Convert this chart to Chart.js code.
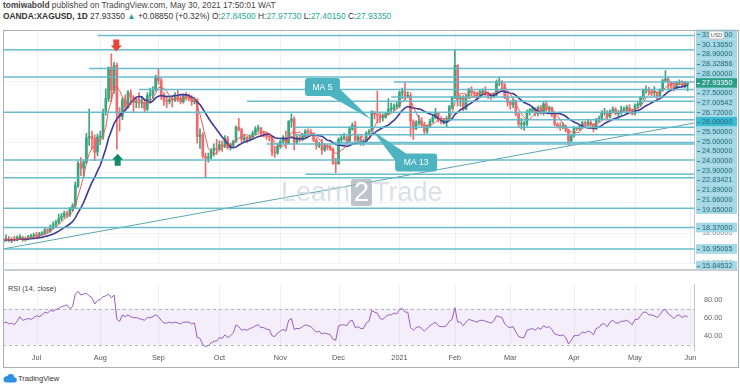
<!DOCTYPE html>
<html><head><meta charset="utf-8">
<script src="https://cdn.jsdelivr.net/npm/chart.js@4.4.1/dist/chart.umd.min.js"></script>
<style>
html,body{margin:0;padding:0;background:#fff;width:740px;height:389px;overflow:hidden;font-family:"Liberation Sans",Arial,sans-serif;}
#wrap{position:relative;width:740px;height:389px;}
#pc{position:absolute;left:0;top:0;z-index:2;}
#rc{position:absolute;left:0;top:270px;z-index:1;}
.t{position:absolute;white-space:nowrap;font-size:7.3px;line-height:9px;color:#444;}
.h{font-size:8.4px;line-height:10px;}
.g{color:#26a69a;}
#frame{position:absolute;left:3px;top:30px;width:736px;height:338px;box-sizing:border-box;border:1px solid #aab0b7;z-index:3;pointer-events:none;}
#sep{position:absolute;left:3px;top:269px;width:736px;height:2px;background:#c9cdd3;z-index:3;}
#wm{position:absolute;left:281px;top:177px;font-size:27px;line-height:30px;color:rgba(205,214,224,0.75);z-index:2;white-space:nowrap;}
#wm .b{display:inline-block;background:rgba(168,176,184,0.75);color:#fff;padding:0 3px;line-height:27px;border-radius:2px;margin:0 1px;}
</style></head>
<body><div id="wrap">
<canvas id="rc" width="740" height="100"></canvas>
<canvas id="pc" width="740" height="276"></canvas>
<div class="t h" style="left:3px;top:0px;"><b>tomiwabold</b> published on TradingView.com, May 30, 2021 17:50:01 WAT</div>
<div class="t h" style="left:3px;top:11px;color:#333;"><b>OANDA:XAGUSD, 1D</b> 27.93350 <span class="g">&#9650;</span> +0.08850 (+0.32%) O:<span class="g">27.84500</span> H:<span class="g">27.97730</span> L:<span class="g">27.40150</span> C:<span class="g">27.93350</span></div>
<div id="wm">Learn<span class="b">2</span>Trade</div>
<div class="t" style="left:8px;top:284px;color:#444;">RSI (14, close)</div>
<div class="t" style="left:3px;top:373px;color:#333;font-size:7.5px;line-height:11px;"><svg width="14" height="10" viewBox="0 0 14 10" style="vertical-align:-2px;margin-right:1px"><path d="M3.4 9.6h7.6a2.7 2.7 0 0 0 .4-5.4A3.8 3.8 0 0 0 4.1 3.3 3.1 3.1 0 0 0 3.4 9.6z" fill="#2f8fe0"/></svg>TradingView</div>
<div id="frame"></div><div id="sep"></div>
</div>
<script>
// ---------- DATA ----------
const monthTicks = [12,35,56,78,100,121,143,163,183,206,228,248];
const monthNames = ['Jul','Aug','Sep','Oct','Nov','Dec','2021','Feb','Mar','Apr','May','Jun'];

const opens = [
17.40,17.55,17.60,17.50,17.58,17.55,17.70,17.72,17.55,17.62,17.75,17.80,
17.83,17.80,17.95,17.98,18.20,18.15,18.40,18.55,18.70,18.95,19.10,19.30,19.20,19.55,19.80,21.15,22.60,22.30,22.70,24.30,24.40,24.25,23.35,
24.35,24.40,26.00,26.90,28.95,27.45,29.10,25.95,25.70,26.80,26.35,27.30,27.00,26.65,26.70,26.60,26.65,26.20,27.10,27.20,27.50,
28.30,28.10,27.10,26.75,26.70,26.85,26.80,27.10,26.90,26.70,27.10,27.05,26.95,26.70,26.80,24.40,24.50,23.10,22.95,23.00,23.45,23.60,
23.55,23.85,23.75,24.25,23.65,23.80,24.05,25.00,24.85,24.20,24.30,24.20,24.35,24.60,24.90,24.95,24.60,24.55,24.40,24.35,23.35,23.30,
23.75,24.05,24.30,23.95,25.40,25.55,24.00,24.30,24.25,24.45,24.75,24.70,24.60,24.15,23.80,23.90,23.50,23.75,23.70,23.60,22.65,
22.60,24.20,24.30,24.30,24.10,24.90,25.15,24.15,24.35,23.95,24.05,24.60,24.75,26.00,25.85,25.80,25.65,25.65,25.90,26.20,26.20,26.40,
26.40,27.30,27.35,27.05,27.10,25.40,24.90,25.30,25.40,25.15,24.75,25.05,25.40,25.65,25.95,25.50,25.40,25.40,25.50,26.35,
26.95,29.10,26.90,26.95,26.20,27.00,27.45,27.30,27.25,27.00,27.35,27.40,27.30,27.10,27.00,27.20,28.00,28.00,27.80,27.00,
26.65,26.50,26.70,25.90,25.20,25.20,25.20,26.00,26.10,26.20,25.90,26.30,25.95,26.55,26.20,26.30,25.90,25.20,25.10,25.00,25.10,24.80,24.10,
24.45,24.95,24.90,25.00,25.30,25.20,25.35,25.20,24.90,25.50,25.60,25.95,26.00,25.70,26.05,26.20,25.90,25.95,26.15,26.20,26.30,26.10,
25.90,26.45,26.50,26.95,27.45,27.50,27.35,27.30,27.30,27.10,27.45,28.10,28.20,27.95,27.75,27.60,27.95,28.00,27.80,27.845];

const highs = [
17.62,17.88,17.78,17.70,17.80,17.82,17.90,17.80,17.75,17.85,17.92,18.00,
18.05,18.05,18.10,18.35,18.30,18.55,18.75,18.85,19.25,19.30,19.45,19.45,19.70,19.95,21.40,22.75,23.00,22.85,24.60,26.20,24.75,24.50,24.55,
24.75,26.20,27.55,29.00,29.86,29.30,29.25,26.30,26.95,27.15,27.45,27.50,27.10,26.90,27.30,26.95,26.90,27.30,27.60,27.70,28.45,
28.90,28.25,27.30,27.05,27.00,27.05,27.30,27.45,27.10,27.20,27.30,27.20,27.10,27.00,26.90,24.90,24.65,23.30,23.30,23.60,23.90,24.20,
24.10,24.10,24.45,24.40,23.95,24.15,25.10,25.60,24.95,24.55,24.40,24.50,24.75,25.05,25.15,25.00,24.75,24.65,24.60,24.40,23.75,23.95,
24.15,24.45,24.75,25.45,25.90,25.70,24.45,24.50,24.60,24.85,24.90,24.85,24.65,24.25,24.00,24.20,23.90,23.85,23.80,23.65,22.95,
24.30,24.50,24.60,24.45,25.05,25.30,25.40,24.45,24.40,24.20,24.70,24.85,26.10,26.05,27.40,25.95,25.90,26.00,26.90,26.60,26.55,26.70,
27.40,27.60,27.95,27.35,27.30,25.50,25.45,25.80,25.65,25.35,25.15,25.55,25.80,26.25,26.00,25.70,25.60,25.75,26.45,27.05,
30.10,29.15,27.10,27.10,27.15,27.60,27.70,27.40,27.35,27.45,27.55,27.70,27.35,27.25,27.30,28.15,28.30,28.10,27.90,27.20,
26.75,26.90,26.80,26.00,25.60,25.40,26.15,26.25,26.35,26.30,26.40,26.45,26.65,26.75,26.40,26.35,25.95,25.30,25.30,25.30,25.15,24.85,24.55,
25.05,25.00,25.10,25.40,25.40,25.55,25.45,25.25,25.60,25.75,26.10,26.25,26.10,26.15,26.35,26.30,26.10,26.40,26.35,26.45,26.50,26.20,
26.55,26.70,27.05,27.55,27.75,27.65,27.50,27.70,27.35,27.55,28.20,28.75,28.30,28.05,27.95,28.05,28.15,28.10,28.05,27.9773];

const lows = [
17.14,17.45,17.42,17.37,17.46,17.48,17.60,17.45,17.47,17.55,17.65,17.70,
17.65,17.72,17.85,17.92,18.00,18.05,18.30,18.40,18.60,18.80,19.00,19.05,19.10,19.45,19.70,21.00,21.80,21.75,22.60,23.80,23.55,22.80,23.10,
23.85,24.20,25.80,26.70,26.70,27.25,23.55,24.75,25.50,26.10,26.25,26.50,25.95,26.30,26.30,26.30,26.00,26.10,26.70,26.90,27.40,
27.85,26.85,26.45,26.30,26.55,26.35,26.70,26.70,26.55,26.60,26.80,26.75,26.45,26.55,23.95,23.60,22.95,21.70,22.70,22.90,23.10,23.20,
23.45,23.40,23.65,23.55,23.50,23.70,24.00,24.75,24.00,24.05,24.00,24.10,24.25,24.50,24.70,24.40,24.35,24.20,24.10,23.10,23.00,23.20,
23.60,23.95,23.60,23.90,25.00,23.50,23.90,24.05,24.10,24.30,24.50,24.45,24.05,23.55,23.65,23.20,23.40,23.50,23.45,22.55,22.00,
22.55,24.00,24.15,23.90,24.05,24.80,24.00,24.05,23.80,23.80,24.00,24.50,24.70,25.55,25.30,25.30,25.40,25.60,25.80,26.00,26.10,26.20,
26.30,26.90,26.80,26.95,24.40,24.20,24.85,25.15,25.00,24.55,24.60,25.00,25.30,25.55,25.35,25.20,25.20,25.05,25.45,26.20,
26.90,26.40,26.40,26.10,26.15,26.95,27.10,27.00,26.80,26.95,27.20,27.05,26.90,26.85,26.95,27.10,27.75,27.45,26.90,26.40,
26.20,26.30,25.75,25.05,24.90,24.80,25.10,25.80,25.95,25.75,25.75,25.85,25.80,26.05,26.00,25.70,25.10,24.95,24.80,24.90,24.70,23.80,24.05,
24.35,24.80,24.80,24.90,25.05,25.10,25.05,24.70,24.85,25.35,25.50,25.80,25.55,25.60,25.95,25.80,25.60,25.85,26.00,25.90,26.00,25.80,
25.80,26.25,26.40,26.85,27.25,27.20,27.10,27.00,26.85,27.05,27.40,28.00,27.50,27.50,27.40,27.50,27.80,27.60,27.60,27.4015];

const closes = [
17.55,17.60,17.50,17.58,17.55,17.70,17.72,17.55,17.62,17.75,17.80,17.83,
17.80,17.95,17.98,18.20,18.15,18.40,18.55,18.70,18.95,19.10,19.30,19.20,19.55,19.80,21.15,22.60,22.30,22.70,24.30,24.40,24.25,23.35,24.35,
24.40,26.00,26.90,28.95,27.45,29.10,25.95,25.70,26.80,26.35,27.30,27.00,26.65,26.70,26.60,26.65,26.20,27.10,27.20,27.50,28.30,
28.10,27.10,26.75,26.70,26.85,26.80,27.10,26.90,26.70,27.10,27.05,26.95,26.70,26.80,24.40,24.50,23.10,22.95,23.00,23.45,23.60,23.55,
23.85,23.75,24.25,23.65,23.80,24.05,25.00,24.85,24.20,24.30,24.20,24.35,24.60,24.90,24.95,24.60,24.55,24.40,24.35,23.35,23.30,23.75,
24.05,24.30,23.95,25.40,25.55,24.00,24.30,24.25,24.45,24.75,24.70,24.60,24.15,23.80,23.90,23.50,23.75,23.70,23.60,22.65,22.60,
24.20,24.30,24.30,24.10,24.90,25.15,24.15,24.35,23.95,24.05,24.60,24.75,26.00,25.85,25.80,25.65,25.65,25.90,26.20,26.20,26.40,26.40,
27.30,27.35,27.05,27.10,25.40,24.90,25.30,25.40,25.15,24.75,25.05,25.40,25.65,25.95,25.50,25.40,25.40,25.50,26.35,26.95,
29.10,26.90,26.95,26.20,27.00,27.45,27.30,27.25,27.00,27.35,27.40,27.30,27.10,27.00,27.20,28.00,28.00,27.80,27.00,26.65,
26.50,26.70,25.90,25.20,25.20,25.20,26.00,26.10,26.20,25.90,26.30,25.95,26.55,26.20,26.30,25.90,25.20,25.10,25.00,25.10,24.80,24.10,24.45,
24.95,24.90,25.00,25.30,25.20,25.35,25.20,24.90,25.50,25.60,25.95,26.00,25.70,26.05,26.20,25.90,25.95,26.15,26.20,26.30,26.10,25.90,
26.45,26.50,26.95,27.45,27.50,27.35,27.30,27.30,27.10,27.45,28.10,28.20,27.95,27.75,27.60,27.95,28.00,27.80,28.00,27.9335];

const rsiValues = [
54,55,53,54,52,56,61,57,58,59,58,60,
62,61,63,66,65,68,67,69,70,72,73,74,70,72,86,89,85,86,87,84,82,75,79,
80,83,84,86,82,85,58,56,63,61,63,61,60,60,59,58,57,60,60,61,63,
61,57,54,54,55,54,55,54,53,55,55,55,53,54,38,37,30,28,29,32,34,34,
38,37,41,38,40,43,52,50,46,47,46,48,49,51,52,49,49,47,47,40,39,43,
45,47,45,57,59,47,48,48,50,52,51,50,47,44,45,42,43,42,41,36,35,
51,52,52,51,56,57,49,50,48,48,54,56,68,66,65,59,58,61,63,63,65,64,
69,70,66,66,49,46,49,50,48,45,48,51,53,55,51,50,50,51,56,58,
71,55,55,51,55,58,57,56,55,57,57,56,55,54,56,62,61,60,53,50,
49,50,44,39,38,38,46,47,48,46,49,47,51,49,50,47,42,41,40,41,38,31,35,
40,40,41,44,43,45,44,41,48,49,53,53,50,55,57,54,54,56,56,57,55,52,
58,58,62,66,66,63,63,62,60,63,68,69,64,62,59,62,63,60,62,61];

const lastPrice = 27.9335;
const levels     = [31.08, 30.1365, 28.9, 28.32856, 28.0, 27.5, 27.00542, 26.72, 26.0, 25.5, 25.0, 24.5, 24.0, 23.9, 22.83421, 21.89, 21.66, 19.65, 18.37, 16.95065, 15.84532];
const levelStart = [34, 0, 31, 0, 141, 49, 140, 88, 0, 160, 105, 105, 119, 95, 0, 109, 0, 0, 0, 0, 0];
const highlightLevel = 26.0;
const priceTicks = [16,18,20,22,24,26,28,30];
const rsiTicks = [40,60,80];
const rsiBand = [30,70];
const trendLine = [{x:-0.1, y:16.95}, {x:249.3, y:25.28}];
const maPeriods = [5, 13];

// ---------- BUILD ----------
const FONT = '"Liberation Sans", Arial, sans-serif';
const UP = '#3aa57e', DOWN = '#ef6a6a';
const candleColor = ctx => closes[ctx.dataIndex] >= opens[ctx.dataIndex] ? UP : DOWN;
const bodies = closes.map((c,i)=>({x:i, y:[opens[i], c]}));
const wicks  = closes.map((c,i)=>({x:i, y:[lows[i], highs[i]]}));
function sma(arr,n){ return arr.map((_,i)=>{const s=Math.max(0,i-n+1);let t=0;for(let k=s;k<=i;k++)t+=arr[k];return {x:i,y:t/(i-s+1)};}); }
const ma5 = sma(closes, maPeriods[0]);
const ma13 = sma(closes, maPeriods[1]);
const rsiPts = rsiValues.map((v,i)=>({x:i,y:v}));

const callouts = [
  {text:'MA 5',  bi:115.2, bp:27.67, w:35, ti:132.7, tp:25.53, corner:'br'},
  {text:'MA 13', bi:149.0, bp:22.67, w:42, ti:133.4, tp:24.75, corner:'tl'}
];
const arrows = [
  {i:40.8, p:30.01, dir:'down', color:'#e8453c'},
  {i:41.3, p:23.25, dir:'up',   color:'#138a6c'}
];

function roundRect(ctx,x,y,w,h,r){ctx.beginPath();ctx.moveTo(x+r,y);ctx.arcTo(x+w,y,x+w,y+h,r);ctx.arcTo(x+w,y+h,x,y+h,r);ctx.arcTo(x,y+h,x,y,r);ctx.arcTo(x,y,x+w,y,r);ctx.closePath();}
function drawArrow(ctx,cx,tip,dir,color){
  const hw=5.5,hh=6,sw=3,sh=6,s=dir==='down'?-1:1;
  ctx.fillStyle=color;ctx.beginPath();
  ctx.moveTo(cx,tip);ctx.lineTo(cx-hw,tip+s*hh);ctx.lineTo(cx-sw,tip+s*hh);ctx.lineTo(cx-sw,tip+s*(hh+sh));
  ctx.lineTo(cx+sw,tip+s*(hh+sh));ctx.lineTo(cx+sw,tip+s*hh);ctx.lineTo(cx+hw,tip+s*hh);ctx.closePath();ctx.fill();
}

const pricePlugin = {
  id:'pricePlugin',
  beforeDatasetsDraw(chart){
    const {ctx, chartArea:a, scales:{x}} = chart;
    ctx.save(); ctx.strokeStyle='#eef1f4'; ctx.lineWidth=1;
    monthTicks.forEach(i=>{const px=Math.round(x.getPixelForValue(i))+0.5; if(px<a.right){ctx.beginPath();ctx.moveTo(px,a.top);ctx.lineTo(px,a.bottom);ctx.stroke();}});
    ctx.restore();
  },
  afterDatasetsDraw(chart){
    const {ctx, chartArea:a, scales:{x,y}} = chart;
    ctx.save();
    ctx.beginPath(); ctx.rect(a.left,a.top,a.right-a.left,a.bottom-a.top); ctx.clip();
    ctx.strokeStyle='rgba(96,184,201,0.95)'; ctx.lineWidth=1.5;
    levels.forEach((p,k)=>{const py=y.getPixelForValue(p);const x0=Math.max(a.left,x.getPixelForValue(levelStart[k]));ctx.beginPath();ctx.moveTo(x0,py);ctx.lineTo(a.right,py);ctx.stroke();});
    arrows.forEach(ar=>drawArrow(ctx,x.getPixelForValue(ar.i),y.getPixelForValue(ar.p),ar.dir,ar.color));
    callouts.forEach(c=>{
      const bx=x.getPixelForValue(c.bi), by=y.getPixelForValue(c.bp), h=18, L=bx-c.w/2, T=by-h/2;
      const tx=x.getPixelForValue(c.ti), ty=y.getPixelForValue(c.tp);
      ctx.fillStyle='#4db3c1';
      ctx.beginPath();
      if(c.corner==='br'){ctx.moveTo(L+c.w-10,T+h);ctx.lineTo(L+c.w,T+h-7);}else{ctx.moveTo(L,T+7);ctx.lineTo(L+11,T);}
      ctx.lineTo(tx,ty);ctx.closePath();ctx.fill();
      roundRect(ctx,L,T,c.w,h,3);ctx.fill();
      ctx.fillStyle='#fff';ctx.font='8.5px '+FONT;ctx.textAlign='center';ctx.textBaseline='middle';ctx.fillText(c.text,bx,by+0.5);
    });
    ctx.restore();
  },
  afterDraw(chart){
    const {ctx, chartArea:a, scales:{y}} = chart;
    const items = levels.map(p=>({p,cur:false})).concat([{p:lastPrice,cur:true}]).sort((m,n)=>n.p-m.p);
    items.forEach(it=>it.ty=y.getPixelForValue(it.p));
    const ai=items.findIndex(it=>it.cur); items[ai].y=items[ai].ty;
    const G=9.7;
    for(let j=ai-1;j>=0;j--) items[j].y=Math.min(items[j].ty,items[j+1].y-G);
    for(let j=ai+1;j<items.length;j++) items[j].y=Math.max(items[j].ty,items[j-1].y+G);
    ctx.save();
    items.forEach(it=>{
      const bg=it.cur?'#2a9e86':(it.p===highlightLevel?'#3bbad3':'#a3d8e4');
      ctx.fillStyle=bg; ctx.fillRect(a.right+2,it.y-G/2,41,G);
      ctx.strokeStyle=it.cur?'#ffffff':'#3f8a9a'; ctx.lineWidth=1;
      ctx.beginPath();ctx.moveTo(a.right+3,Math.round(it.y)+0.5);ctx.lineTo(a.right+6,Math.round(it.y)+0.5);ctx.stroke();
      ctx.fillStyle=it.cur?'#ffffff':'#2a6878'; ctx.font='7.3px '+FONT; ctx.textAlign='left'; ctx.textBaseline='middle';
      ctx.fillText(it.p.toFixed(5),a.right+8,it.y+0.5);
    });
    const ux=a.right+15, uy=a.top+1;
    ctx.fillStyle='#fff'; ctx.strokeStyle='#b8bcc3'; roundRect(ctx,ux,uy,15,8,1.5); ctx.fill(); ctx.stroke();
    ctx.fillStyle='#555'; ctx.font='5.5px '+FONT; ctx.textAlign='center'; ctx.textBaseline='middle'; ctx.fillText('USD',ux+7.5,uy+4.3);
    ctx.restore();
  }
};

new Chart(document.getElementById('pc'), {
  type:'bar',
  data:{datasets:[
    {type:'line', data:ma5, borderColor:'#ef5b57', borderWidth:1, pointRadius:0, order:0},
    {type:'line', data:ma13, borderColor:'#3c3a99', borderWidth:1.6, pointRadius:0, order:1},
    {type:'bar', data:bodies, backgroundColor:candleColor, barThickness:2, grouped:false, minBarLength:1, order:2},
    {type:'bar', data:wicks, backgroundColor:candleColor, barThickness:1, grouped:false, order:3},
    {type:'line', data:trendLine, borderColor:'#5aa6b1', borderWidth:1, pointRadius:0, order:4}
  ]},
  options:{
    responsive:false, animation:false, events:[],
    layout:{padding:{left:3,top:30,right:0,bottom:8}},
    plugins:{legend:{display:false},tooltip:{enabled:false}},
    scales:{
      x:{type:'linear',min:-0.1,max:249.3,display:false,offset:false},
      y:{position:'right',min:15.98,max:31.44,
         afterFit(s){s.width=46;},
         afterBuildTicks(s){s.ticks=priceTicks.map(v=>({value:v}));},
         ticks:{callback:v=>Number(v).toFixed(5),color:'#8a8e96',font:{size:7.3,family:FONT},padding:8},
         grid:{color:'#f1f3f6',drawTicks:false},
         border:{color:'#c3c7cd'}}
    }
  },
  plugins:[pricePlugin]
});

const rsiPlugin = {
  id:'rsiPlugin',
  beforeDatasetsDraw(chart){
    const {ctx, chartArea:a, scales:{x,y}} = chart;
    ctx.save();
    ctx.strokeStyle='#eef1f4'; ctx.lineWidth=1;
    monthTicks.forEach(i=>{const px=Math.round(x.getPixelForValue(i))+0.5; if(px<a.right){ctx.beginPath();ctx.moveTo(px,a.top);ctx.lineTo(px,a.bottom);ctx.stroke();}});
    const yT=y.getPixelForValue(rsiBand[1]), yB=y.getPixelForValue(rsiBand[0]);
    ctx.fillStyle='rgba(160,120,220,0.13)'; ctx.fillRect(a.left,yT,a.right-a.left,yB-yT);
    ctx.setLineDash([3,3]); ctx.strokeStyle='#b7b4c2';
    [yT,yB].forEach(py=>{ctx.beginPath();ctx.moveTo(a.left,Math.round(py)+0.5);ctx.lineTo(a.right,Math.round(py)+0.5);ctx.stroke();});
    ctx.restore();
  },
  afterDraw(chart){
    const {ctx, chartArea:a, scales:{x}} = chart;
    ctx.save(); ctx.fillStyle='#555'; ctx.font='7.3px '+FONT; ctx.textAlign='center'; ctx.textBaseline='middle';
    monthTicks.forEach((i,k)=>ctx.fillText(monthNames[k], x.getPixelForValue(i), a.bottom+8));
    ctx.restore();
  }
};

new Chart(document.getElementById('rc'), {
  type:'line',
  data:{datasets:[{data:rsiPts, borderColor:'#9a5ec0', borderWidth:1, pointRadius:0}]},
  options:{
    responsive:false, animation:false, events:[],
    layout:{padding:{left:3,top:2,right:0,bottom:20}},
    plugins:{legend:{display:false},tooltip:{enabled:false}},
    scales:{
      x:{type:'linear',min:-0.1,max:249.3,display:false},
      y:{position:'right',min:24.2,max:96.7,
         afterFit(s){s.width=46;},
         afterBuildTicks(s){s.ticks=rsiTicks.map(v=>({value:v}));},
         ticks:{callback:v=>Number(v).toFixed(2),color:'#666',font:{size:7.3,family:FONT},padding:10},
         grid:{display:false,drawTicks:false},
         border:{color:'#c3c7cd'}}
    }
  },
  plugins:[rsiPlugin]
});
</script>
</body></html>
